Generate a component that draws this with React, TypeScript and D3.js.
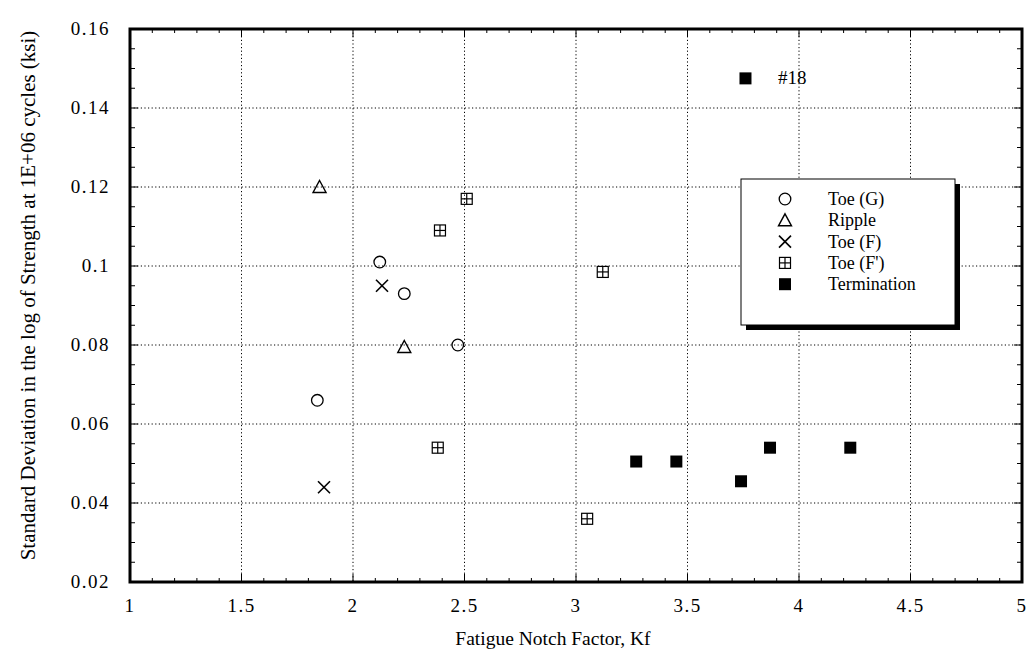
import React from "react";
import * as d3 from "d3";

const xTicks = [1, 1.5, 2, 2.5, 3, 3.5, 4, 4.5, 5];
const xTickLabels = ["1", "1.5", "2", "2.5", "3", "3.5", "4", "4.5", "5"];
const yTicks = [0.02, 0.04, 0.06, 0.08, 0.1, 0.12, 0.14, 0.16];
const yTickLabels = ["0.02", "0.04", "0.06", "0.08", "0.1", "0.12", "0.14", "0.16"];

const toeGX = [1.84, 2.12, 2.23, 2.47];
const toeGY = [0.066, 0.101, 0.093, 0.08];
const rippleX = [1.85, 2.23];
const rippleY = [0.12, 0.0795];
const toeFX = [2.13, 1.87];
const toeFY = [0.095, 0.044];
const toeFpX = [2.51, 2.39, 3.12, 2.38, 3.05];
const toeFpY = [0.117, 0.109, 0.0985, 0.054, 0.036];
const termX = [3.27, 3.45, 3.74, 3.87, 4.23, 3.76];
const termY = [0.0505, 0.0505, 0.0455, 0.054, 0.054, 0.1475];

const seriesNames = ["Toe (G)", "Ripple", "Toe (F)", "Toe (F')", "Termination"];
const seriesKinds = ["circle", "triangle", "cross", "boxplus", "filled"];

const W = 1029, H = 656;
const left = 130, right = 1022, top = 29, bottom = 582;
const FONT = "'Liberation Serif', 'Times New Roman', serif";

const x = d3.scaleLinear().domain([1, 5]).range([left, right]);
const y = d3.scaleLinear().domain([0.02, 0.16]).range([bottom, top]);

function Marker({ kind, cx, cy }: { kind: string; cx: number; cy: number }) {
  const s = 6;
  if (kind === "circle")
    return <circle cx={cx} cy={cy} r={5.8} fill="none" stroke="#000" strokeWidth={1.3} />;
  if (kind === "triangle") {
    const p = d3.path();
    p.moveTo(cx, cy - 6.5);
    p.lineTo(cx + 6.5, cy + 5.5);
    p.lineTo(cx - 6.5, cy + 5.5);
    p.closePath();
    return <path d={p.toString()} fill="none" stroke="#000" strokeWidth={1.4} />;
  }
  if (kind === "cross") {
    return (
      <g stroke="#000" strokeWidth={1.6}>
        <line x1={cx - s} y1={cy - s} x2={cx + s} y2={cy + s} />
        <line x1={cx - s} y1={cy + s} x2={cx + s} y2={cy - s} />
      </g>
    );
  }
  if (kind === "boxplus") {
    const h = 5.5;
    return (
      <g stroke="#000" strokeWidth={1.2} fill="none">
        <rect x={cx - h} y={cy - h} width={2 * h} height={2 * h} />
        <line x1={cx - h} y1={cy} x2={cx + h} y2={cy} />
        <line x1={cx} y1={cy - h} x2={cx} y2={cy + h} />
      </g>
    );
  }
  return <rect x={cx - 6} y={cy - 6} width={12} height={12} fill="#000" />;
}

export default function App() {
  const xMinor = d3.range(1, 5.0001, 0.1);
  const yMinor = d3.range(0.02, 0.16001, 0.005);
  const series = [
    { kind: "circle", xs: toeGX, ys: toeGY },
    { kind: "triangle", xs: rippleX, ys: rippleY },
    { kind: "cross", xs: toeFX, ys: toeFY },
    { kind: "boxplus", xs: toeFpX, ys: toeFpY },
    { kind: "filled", xs: termX, ys: termY },
  ];
  const lg = { x: 741, y: 179, w: 214, h: 146 };
  return (
    <svg width={W} height={H} style={{ position: "absolute", left: 0, top: 0, background: "#fff" }}>
      <rect x={0} y={0} width={W} height={H} fill="#fff" />
      {/* grid */}
      <g stroke="#000" strokeWidth={1} strokeDasharray="1.2,2.4">
        {xTicks.slice(1, -1).map((t) => (
          <line key={"gx" + t} x1={x(t)} x2={x(t)} y1={top} y2={bottom} />
        ))}
        {yTicks.slice(1, -1).map((t) => (
          <line key={"gy" + t} x1={left} x2={right} y1={y(t)} y2={y(t)} />
        ))}
      </g>
      {/* minor ticks */}
      <g stroke="#000" strokeWidth={1}>
        {xMinor.map((t, i) => (
          <g key={"xm" + i}>
            <line x1={x(t)} x2={x(t)} y1={bottom} y2={bottom - (i % 5 === 0 ? 8 : 4)} />
            <line x1={x(t)} x2={x(t)} y1={top} y2={top + (i % 5 === 0 ? 8 : 4)} />
          </g>
        ))}
        {yMinor.map((t, i) => (
          <g key={"ym" + i}>
            <line x1={left} x2={left + (i % 4 === 0 ? 8 : 5)} y1={y(t)} y2={y(t)} />
            <line x1={right} x2={right - (i % 4 === 0 ? 8 : 5)} y1={y(t)} y2={y(t)} />
          </g>
        ))}
      </g>
      {/* frame */}
      <rect x={left} y={top} width={right - left} height={bottom - top} fill="none" stroke="#000" strokeWidth={3} />
      {/* tick labels */}
      <g fontFamily={FONT} fontSize={19} fill="#000" letterSpacing={1.5}>
        {xTicks.map((t, i) => (
          <text key={"xl" + t} x={x(t)} y={612} textAnchor="middle">
            {xTickLabels[i]}
          </text>
        ))}
        {yTicks.map((t, i) => (
          <text key={"yl" + t} x={110} y={y(t) + 6} textAnchor="end">
            {yTickLabels[i]}
          </text>
        ))}
      </g>
      {/* axis titles */}
      <text x={553} y={645} textAnchor="middle" fontFamily={FONT} fontSize={19.5}>
        Fatigue Notch Factor, Kf
      </text>
      <text
        transform={`translate(35,${(top + bottom) / 2 - 10}) rotate(-90)`}
        textAnchor="middle"
        fontFamily={FONT}
        fontSize={21}
      >
        Standard Deviation in the log of Strength at 1E+06 cycles (ksi)
      </text>
      {/* points */}
      {series.map((s, si) =>
        s.xs.map((v, i) => <Marker key={si + "-" + i} kind={s.kind} cx={x(v)} cy={y(s.ys[i])} />)
      )}
      <text x={778} y={84} fontFamily={FONT} fontSize={19}>
        #18
      </text>
      {/* legend */}
      <rect x={lg.x + 5} y={lg.y + 5} width={lg.w} height={lg.h} fill="#000" />
      <rect x={lg.x} y={lg.y} width={lg.w} height={lg.h} fill="#fff" stroke="#000" strokeWidth={1} />
      {seriesNames.map((n, i) => (
        <g key={n}>
          <Marker kind={seriesKinds[i]} cx={785} cy={199 + i * 21.3} />
          <text x={828} y={205 + i * 21.3} fontFamily={FONT} fontSize={18}>
            {n}
          </text>
        </g>
      ))}
    </svg>
  );
}
